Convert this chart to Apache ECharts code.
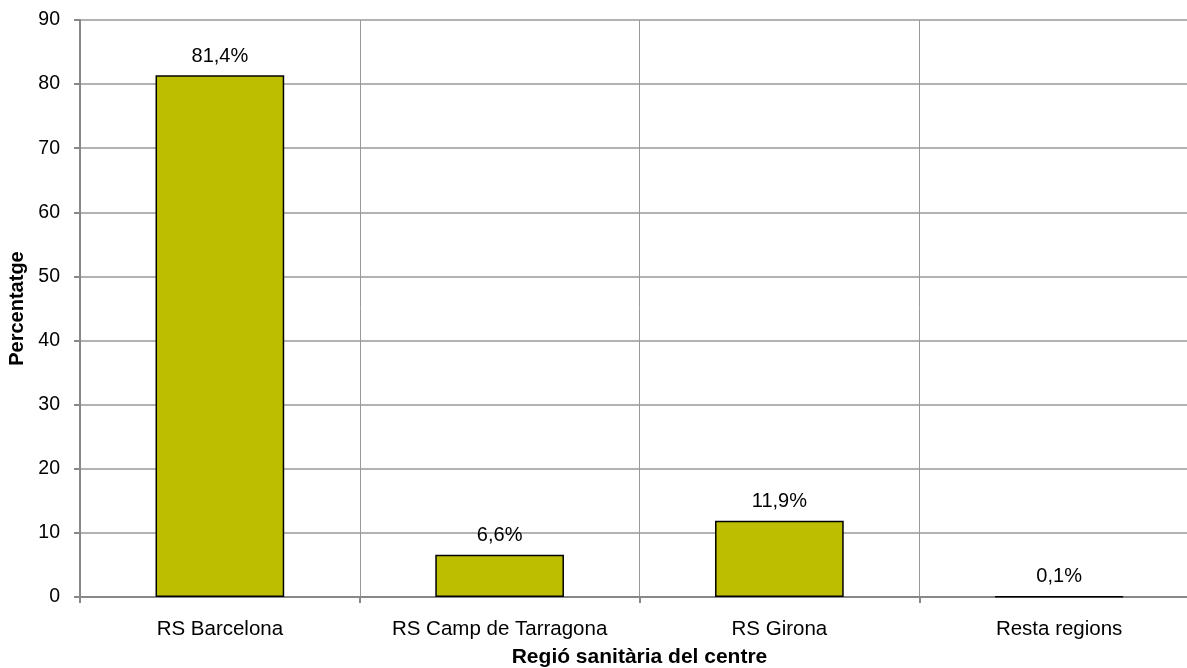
<!DOCTYPE html>
<html>
<head>
<meta charset="utf-8">
<script src="https://cdn.jsdelivr.net/npm/echarts@6/dist/echarts.min.js"></script>
<style>
	html, body { margin: 0; padding: 0; background: #fff; }
	#chart { width: 1187px; height: 668px; }
</style>
</head>
<body>
<div id="chart"></div>
<script>
var categories = ['RS Barcelona', 'RS Camp de Tarragona', 'RS Girona', 'Resta regions'];
var values = [81.4, 6.6, 11.9, 0.1];
var yTicks = [0, 10, 20, 30, 40, 50, 60, 70, 80, 90];

var myChart = echarts.init(document.getElementById('chart'));
var font = "'Liberation Sans', Arial, sans-serif";

var option = {
	animation: false,
	grid: {
		left: 80,
		right: -12,
		top: 20,
		bottom: 71,
		containLabel: false,
		outerBoundsMode: 'none'
	},
	xAxis: {
		type: 'category',
		data: categories,
		name: 'Regió sanitària del centre',
		nameLocation: 'middle',
		nameGap: 50,
		nameTextStyle: { fontFamily: font, fontSize: 21, fontWeight: 'bold', color: '#000' },
		axisLine: { lineStyle: { color: '#888', width: 2 } },
		axisTick: { show: true, interval: 0, length: 6, lineStyle: { color: '#888', width: 2 } },
		axisLabel: { interval: 0, hideOverlap: false, fontFamily: font, fontSize: 20.5, color: '#000', margin: 22 },
		splitLine: { show: true, interval: 0, lineStyle: { color: '#999', width: 1 } }
	},
	yAxis: {
		type: 'value',
		min: yTicks[0],
		max: yTicks[yTicks.length - 1],
		interval: 10,
		name: 'Percentatge',
		nameLocation: 'middle',
		nameGap: 50,
		nameTextStyle: { fontFamily: font, fontSize: 20, fontWeight: 'bold', color: '#000' },
		axisLine: { show: true, lineStyle: { color: '#888', width: 2 } },
		axisTick: { show: true, length: 6, lineStyle: { color: '#888', width: 2 } },
		axisLabel: { fontFamily: font, fontSize: 19.5, color: '#000', margin: 20 },
		splitLine: { show: true, lineStyle: { color: '#999', width: 1.5 } }
	},
	series: [{
		type: 'bar',
		data: values,
		barWidth: '46%',
		itemStyle: { color: '#BDBE00', borderColor: '#000', borderWidth: 1.5 },
		label: {
			show: true,
			position: 'top',
			distance: 9,
			fontFamily: font,
			fontSize: 20,
			color: '#000',
			formatter: function(p) {
				return p.value.toFixed(1).replace('.', ',') + '%';
			}
		}
	}]
};
myChart.setOption(option);
</script>
</body>
</html>
